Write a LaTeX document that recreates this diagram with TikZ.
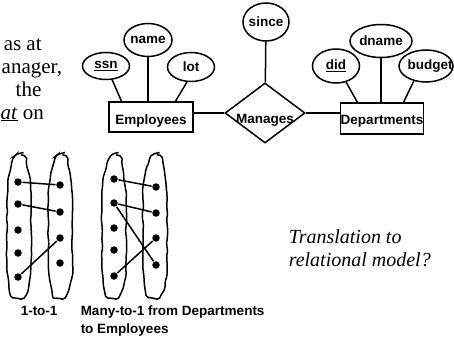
\documentclass[tikz,border=0pt]{standalone}
\usepackage{fontspec}
\setmainfont{Liberation Serif}
\newfontfamily\arialfont{Liberation Sans}
\usetikzlibrary{shapes.geometric,decorations.pathmorphing,calc}
\newcommand\dgfont{\arialfont\bfseries\fontsize{13.5pt}{16pt}\selectfont}
\newcommand\txfont{\fontsize{21pt}{23pt}\selectfont}
\newcommand\lowtext[2]{\raisebox{-#1}[0pt][0pt]{#2}}
\begin{document}
\begin{tikzpicture}[x=1pt,y=-1pt,line width=1.5pt,
  attr/.style={ellipse,draw,inner sep=0pt,font=\dgfont},
  ent/.style={rectangle,draw,inner sep=0pt,font=\dgfont},
  rel/.style={diamond,draw,inner sep=0pt,aspect=1.333,minimum width=80pt,minimum height=60pt,font=\dgfont},
  dot/.style={circle,fill,inner sep=0pt,minimum size=7.5pt},
  blobline/.style={decorate,decoration={random steps,amplitude=0.8pt,segment length=6pt},rounded corners=2pt,line width=1.5pt},
  lbl/.style={font=\dgfont,anchor=base west,inner sep=0pt},
  para/.style={font=\txfont,anchor=base west,inner sep=0pt}]
\useasboundingbox (0,0) rectangle (454,337);
\pgfmathsetseed{7}

% left text fragments
\node[para] (t1) at (3,50) {as at};
\node[para] (t2) at (1,73) {anager,};
\node[para] (t3) at (15,96) {the};
\node[para] (t4) at (0,119) {\underline{\textit{at}} on};

% ER diagram
\node[ent,minimum width=84pt,minimum height=30pt] (emp) at (151,117) {\lowtext{7pt}{Employees}};
\node[ent,minimum width=82pt,minimum height=31pt] (dept) at (382,118.5) {\lowtext{5.5pt}{Departments}};
\node[rel] (man) at (265,113) {\lowtext{10.5pt}{Manages}};

\node[attr,minimum width=47pt,minimum height=27pt] (ssn) at (106,66) {\makebox[0pt]{\underline{ssn}}};
\node[attr,minimum width=48pt,minimum height=33pt] (name) at (148,40) {\makebox[0pt]{name}};
\node[attr,minimum width=47pt,minimum height=29pt] (lot) at (191,67) {\makebox[0pt]{lot}};
\node[attr,minimum width=46pt,minimum height=38pt] (since) at (266,22) {\makebox[0pt]{since}};
\node[attr,minimum width=47pt,minimum height=34pt] (did) at (336,66) {\makebox[0pt]{\underline{did}}};
\node[attr,minimum width=62pt,minimum height=33pt] (dname) at (381,41) {\makebox[0pt]{dname}};
\node[attr,minimum width=54pt,minimum height=32pt] (budget) at (426,66) {\makebox[0pt]{\hspace{8pt}budget}};

\draw (ssn.-66) -- ($(emp.north west)!0.155!(emp.north east)$);
\draw (name.south) -- (name.south |- emp.north);
\draw (lot.-105) -- ($(emp.north west)!0.786!(emp.north east)$);
\draw (since) -- (man);
\draw (did.-58) -- ($(dept.north west)!0.207!(dept.north east)$);
\draw (dname.south) -- (dname.south |- dept.north);
\draw (budget.-129) -- ($(dept.north west)!0.756!(dept.north east)$);
\draw (man.west) -- (man.west -| emp.east);
\draw (man.east) -- (man.east -| dept.west);

% blobs
\foreach \xc in {19,60.5,114,155} {
  \draw[blobline] (\xc,154) .. controls (\xc+6,156) and (\xc+12,178) .. (\xc+12,200)
    -- (\xc+12,262) .. controls (\xc+12,285) and (\xc+7,298) .. (\xc,298)
    .. controls (\xc-7,298) and (\xc-12,285) .. (\xc-12,262)
    -- (\xc-12,200) .. controls (\xc-12,178) and (\xc-6,156) .. cycle;
}

% dots pair 1
\node[dot] (a1) at (18,182) {};
\node[dot] (a2) at (18,204) {};
\node[dot] (a3) at (18,230) {};
\node[dot] (a4) at (18,253) {};
\node[dot] (a5) at (18,277) {};
\node[dot] (b1) at (60,185) {};
\node[dot] (b2) at (60,212) {};
\node[dot] (b3) at (60,238) {};
\node[dot] (b4) at (60,263) {};
\draw (a1) -- (b1);
\draw (a2) -- (b2);
\draw (a5) -- (b3);

% dots pair 2
\node[dot] (c1) at (114,179) {};
\node[dot] (c2) at (114,203) {};
\node[dot] (c3) at (114,228) {};
\node[dot] (c4) at (114,250) {};
\node[dot] (c5) at (114,276) {};
\node[dot] (d1) at (156,187) {};
\node[dot] (d2) at (156,213) {};
\node[dot] (d3) at (156,238) {};
\node[dot] (d4) at (156,265) {};
\draw (c1) -- (d1);
\draw (c2) -- (d2);
\draw (c2) -- (d4);
\draw (c5) -- (d3);

% labels
\node[lbl] (l1) at (20,315) {1-to-1};
\node[lbl] (l2) at (80,315) {Many-to-1 from Departments};
\node[lbl] (l3) at (80,333) {to Employees};

\node[para,font=\fontsize{20pt}{23pt}\selectfont\itshape] (q1) at (288,243) {Translation to};
\node[para,font=\fontsize{20pt}{23pt}\selectfont\itshape] (q2) at (288,266) {relational model?};
\end{tikzpicture}
\end{document}
